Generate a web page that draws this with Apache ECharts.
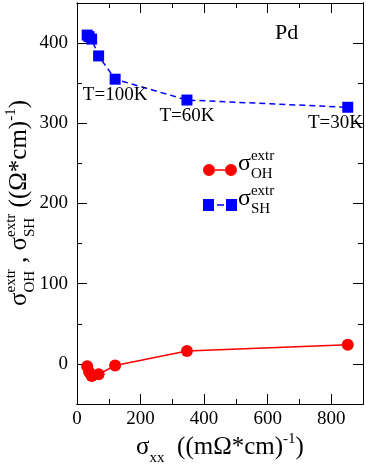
<!DOCTYPE html>
<html><head><meta charset="utf-8">
<script src="https://cdn.jsdelivr.net/npm/echarts@6/dist/echarts.min.js"></script>
<style>html,body{margin:0;padding:0;background:#fff}#c{width:366px;height:470px}</style>
</head><body><div id="c"></div>
<script>
// ---- data ----
const sigmaXX = [32, 38, 46, 68, 120, 346, 852];
const sigmaOH = [-3, -10, -15, -13, -2, 16, 24];
const sigmaSH = [410, 408, 405, 384, 355, 329, 320];
const tempLabels = ['', '', '', '', 'T=100K', 'T=60K', 'T=30K'];
const xMajorTicks = [0, 200, 400, 600, 800];
const xMinorTicks = [100, 300, 500, 700];
const yMajorTicks = [0, 100, 200, 300, 400];
const yMinorTicks = [50, 150, 250, 350];
const seriesNames = ['OH', 'SH'];

const FONT = '"Liberation Serif", "DejaVu Serif", serif';
const PLOT_RIGHT = 363;

function xAx(pos, ticks, len, labels) {
  return {
    type: 'value', min: 0, max: 900, position: pos,
    axisLine: { show: true, onZero: false, lineStyle: { color: '#000', width: 1 } },
    axisTick: { show: true, inside: true, length: len, customValues: ticks, lineStyle: { color: '#000', width: 1 } },
    axisLabel: { show: labels, customValues: xMajorTicks, fontFamily: FONT, fontSize: 19, color: '#000', margin: 6 },
    splitLine: { show: false }
  };
}
function yAx(pos, ticks, len, labels) {
  return {
    type: 'value', min: -50, max: 450, position: pos,
    axisLine: { show: true, onZero: false, lineStyle: { color: '#000', width: 1 } },
    axisTick: { show: true, inside: true, length: len, customValues: ticks, lineStyle: { color: '#000', width: 1 } },
    axisLabel: { show: labels, customValues: yMajorTicks, fontFamily: FONT, fontSize: 19, color: '#000', margin: 9 },
    splitLine: { show: false }
  };
}

const mctx = document.createElement('canvas').getContext('2d');
function buildRun(pieces) {
  let u = 0; const kids = [];
  const put = (t, f, dy, at) => {
    const font = f + 'px ' + FONT;
    mctx.font = font;
    const w = mctx.measureText(t).width;
    kids.push({ type: 'text', x: at, y: dy - 0.34 * f,
      style: { text: t, font: font, fill: '#000', textAlign: 'left', align: 'left', textVerticalAlign: 'middle', verticalAlign: 'middle' } });
    return w;
  };
  for (const p of pieces) {
    if (p.stack) { let m = 0; for (const q of p.stack) m = Math.max(m, put(q.t, q.f, q.dy, u)); u += m; }
    else u += put(p.t, p.f, p.dy || 0, u);
  }
  return { kids, len: u };
}

const M = 25, S = 15;
const yTitle = buildRun([
  { t: 'σ', f: M }, { stack: [{ t: 'extr', f: S, dy: -12 }, { t: 'OH', f: S, dy: 7 }] },
  { t: ' , ', f: M },
  { t: 'σ', f: M }, { stack: [{ t: 'extr', f: S, dy: -12 }, { t: 'SH', f: S, dy: 7 }] },
  { t: ' ((Ω*cm)', f: M }, { t: '-1', f: S, dy: -12 }, { t: ')', f: M }
]);
const xTitle = buildRun([
  { t: 'σ', f: M }, { t: 'xx', f: S, dy: 7 },
  { t: '  ((mΩ*cm)', f: M }, { t: '-1', f: S, dy: -12 }, { t: ')', f: M }
]);
const legOH = buildRun([{ t: 'σ', f: 24 }, { stack: [{ t: 'extr', f: S, dy: -11 }, { t: 'OH', f: S, dy: 7 }] }]);
const legSH = buildRun([{ t: 'σ', f: 24 }, { stack: [{ t: 'extr', f: S, dy: -11 }, { t: 'SH', f: S, dy: 7 }] }]);

const chart = echarts.init(document.getElementById('c'), null, { renderer: 'canvas' });
chart.setOption({
  animation: false,
  backgroundColor: '#fff',
  grid: { left: 77, right: 366 - PLOT_RIGHT, top: 3, bottom: 66, containLabel: false },
  xAxis: [xAx('bottom', xMajorTicks, 10, true), xAx('bottom', xMinorTicks, 5, false),
          xAx('top', xMajorTicks, 10, false), xAx('top', xMinorTicks, 5, false)],
  yAxis: [yAx('left', yMajorTicks, 10, true), yAx('left', yMinorTicks, 5, false),
          yAx('right', yMajorTicks, 10, false), yAx('right', yMinorTicks, 5, false)],
  legend: {
    left: 198, top: 159, orient: 'vertical', itemWidth: 34, itemHeight: 12, itemGap: 23,
    formatter: () => '', selectedMode: false,
    data: [
      { name: seriesNames[0], icon: 'path://M0,6A6,6,0,1,0,12,6A6,6,0,1,0,0,6Z M12,5.2L22,5.2L22,6.8L12,6.8Z M22,6A6,6,0,1,0,34,6A6,6,0,1,0,22,6Z' },
      { name: seriesNames[1], icon: 'path://M0,0L11,0L11,12L0,12Z M14,5.2L21,5.2L21,6.8L14,6.8Z M23,0L34,0L34,12L23,12Z' }
    ]
  },
  series: [
    { type: 'line', name: seriesNames[0], xAxisIndex: 0, yAxisIndex: 0,
      data: sigmaXX.map((x, i) => [x, sigmaOH[i]]),
      symbol: 'circle', symbolSize: 12,
      itemStyle: { color: '#ff0000' }, lineStyle: { color: '#ff0000', width: 1.5 } },
    { type: 'line', name: seriesNames[1], xAxisIndex: 0, yAxisIndex: 0,
      data: sigmaXX.map((x, i) => [x, sigmaSH[i]]),
      symbol: 'rect', symbolSize: 11,
      itemStyle: { color: '#0000ff' }, lineStyle: { color: '#0000ff', width: 1.5, type: [6, 4] },
      label: { show: true, position: 'bottom', distance: 1, formatter: p => tempLabels[p.dataIndex],
               fontFamily: FONT, fontSize: 19, color: '#000' },
      labelLayout: p => {
        const over = p.labelRect.x + p.labelRect.width - PLOT_RIGHT;
        return over > 0 ? { dx: -over } : {};
      } }
  ],
  graphic: [
    { type: 'group', x: 28, y: 203 + yTitle.len / 2, rotation: Math.PI / 2, children: yTitle.kids },
    { type: 'group', x: 220 - xTitle.len / 2, y: 456, children: xTitle.kids },
    { type: 'group', x: 238, y: 172, children: legOH.kids },
    { type: 'group', x: 238, y: 207, children: legSH.kids },
    { type: 'text', x: 275, y: 33, style: { text: 'Pd', font: '22px ' + FONT, fill: '#000', textVerticalAlign: 'middle', verticalAlign: 'middle' } }
  ]
});
</script></body></html>
